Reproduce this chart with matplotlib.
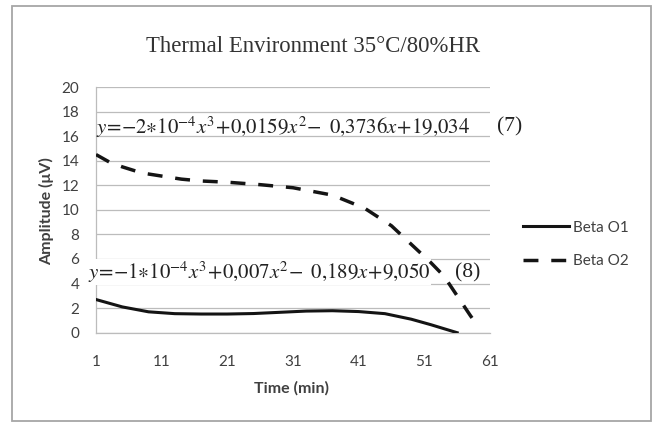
"""
Thermal environment 35°C/80%HR - Beta O1 / Beta O2 amplitude vs time.
Output -> out.png
"""
import matplotlib
matplotlib.use('Agg')
import matplotlib.pyplot as plt
from matplotlib.patches import Rectangle

# values
time_o1 = [1, 5, 9, 13, 17, 21, 25, 29, 33, 37, 41, 45, 49, 52, 56]
beta_o1 = [2.7, 2.1, 1.7, 1.55, 1.52, 1.52, 1.56, 1.66, 1.76, 1.79, 1.72,
           1.55, 1.1, 0.65, 0.0]
time_o2 = [1, 3, 5, 8, 11, 14, 17, 21, 26, 31, 35, 37, 40, 42, 44, 46, 48,
           50, 52, 54, 56, 58, 59]
beta_o2 = [14.5, 13.9, 13.5, 13.0, 12.75, 12.5, 12.35, 12.25, 12.05, 11.8,
           11.4, 11.2, 10.55, 10.1, 9.4, 8.7, 7.7, 6.7, 5.7, 4.6, 3.0, 1.4,
           0.65]
x_ticks = [1, 11, 21, 31, 41, 51, 61]
y_ticks = list(range(0, 21, 2))

title = 'Thermal Environment 35°C/80%HR'
eq_o2 = r'$y\!=\!{-}2{\ast}10^{-4}x^3\!+\!0{,}0159x^2\!-\ 0{,}3736x\!+\!19{,}034$'
eq_o1 = r'$y\!=\!{-}1{\ast}10^{-4}x^3\!+\!0{,}007x^2\!-\ 0{,}189x\!+\!9{,}050$'

W, H = 653, 422
TXT = '#404040'
GRID = '#bcbcbc'
LINE = '#141414'
EQ = '#222222'
SANS = ['Lato', 'DejaVu Sans']
plt.rcParams['mathtext.fontset'] = 'stix'

fig = plt.figure(figsize=(W / 100, H / 100), dpi=100)
ax = fig.add_axes([96 / W, 1 - 332.7 / H, (490 - 96) / W, (332.7 - 87) / H])

ax.plot(time_o1, beta_o1, color=LINE, lw=2.2, zorder=5, label='Beta O1')
ax.plot(time_o2, beta_o2, color=LINE, lw=2.5, ls=(0, (4.3, 3.7)), zorder=5,
        label='Beta O2')

ax.set_xlim(1, 61)
ax.set_ylim(0, 20)
ax.set_xticks(x_ticks)
ax.set_yticks(y_ticks)
ax.tick_params(length=0, labelsize=11, labelcolor=TXT)
ax.tick_params(axis='x', pad=16)
ax.tick_params(axis='y', pad=12)
for lab in ax.get_xticklabels() + ax.get_yticklabels():
    lab.set_family(SANS)
ax.yaxis.grid(True, color=GRID, lw=0.9)
ax.set_axisbelow(True)
for side in ('top', 'right'):
    ax.spines[side].set_visible(False)
for side in ('left', 'bottom'):
    ax.spines[side].set_color(GRID)
    ax.spines[side].set_linewidth(0.9)

# trendline equations (in the axes so the curves stay on top)
ftr = fig.transFigure
ax.text(96.5 / W, 1 - 127 / H, eq_o2, transform=ftr, clip_on=False,
        fontsize=15, color=EQ, va='center', ha='left', zorder=3)
ax.text(497 / W, 1 - 127 / H, '(7)', transform=ftr, clip_on=False,
        family='Liberation Serif', fontsize=15.5, color=EQ,
        va='center', ha='left', zorder=3)
ax.text(88 / W, 1 - 272 / H, eq_o1, transform=ftr, clip_on=False,
        fontsize=15, color=EQ, va='center', ha='left', zorder=3,
        bbox=dict(facecolor='white', edgecolor='none', pad=0.5))
ax.text(455 / W, 1 - 273 / H, '(8)', transform=ftr, clip_on=False,
        family='Liberation Serif', fontsize=15.5, color=EQ,
        va='center', ha='left', zorder=3)

fig.text(313 / W, 1 - 47 / H, title, family='Liberation Serif', fontsize=16.4,
         color='#333333', ha='center', va='center')
fig.text(46.5 / W, 1 - 211 / H, 'Amplitude (μV)', family=SANS, fontsize=11.5,
         weight='bold', color=TXT, rotation=90, ha='center', va='center')
fig.text(291 / W, 1 - 388 / H, 'Time (min)', family=SANS, fontsize=11.5,
         weight='bold', color=TXT, ha='center', va='center')

leg = fig.legend(loc='center left', bbox_to_anchor=(523 / W, 1 - 244.5 / H),
                 frameon=False, borderpad=0, borderaxespad=0,
                 handlelength=3.0, handletextpad=0.3, labelspacing=1.3,
                 prop={'family': SANS, 'size': 11})
for t in leg.get_texts():
    t.set_color(TXT)

fig.patches.append(Rectangle((11.5 / W, 1 / H), 639 / W, 415 / H,
                             transform=fig.transFigure, fill=False,
                             edgecolor='#a6a6a6', lw=1.3))

fig.savefig('out.png', dpi=100)
